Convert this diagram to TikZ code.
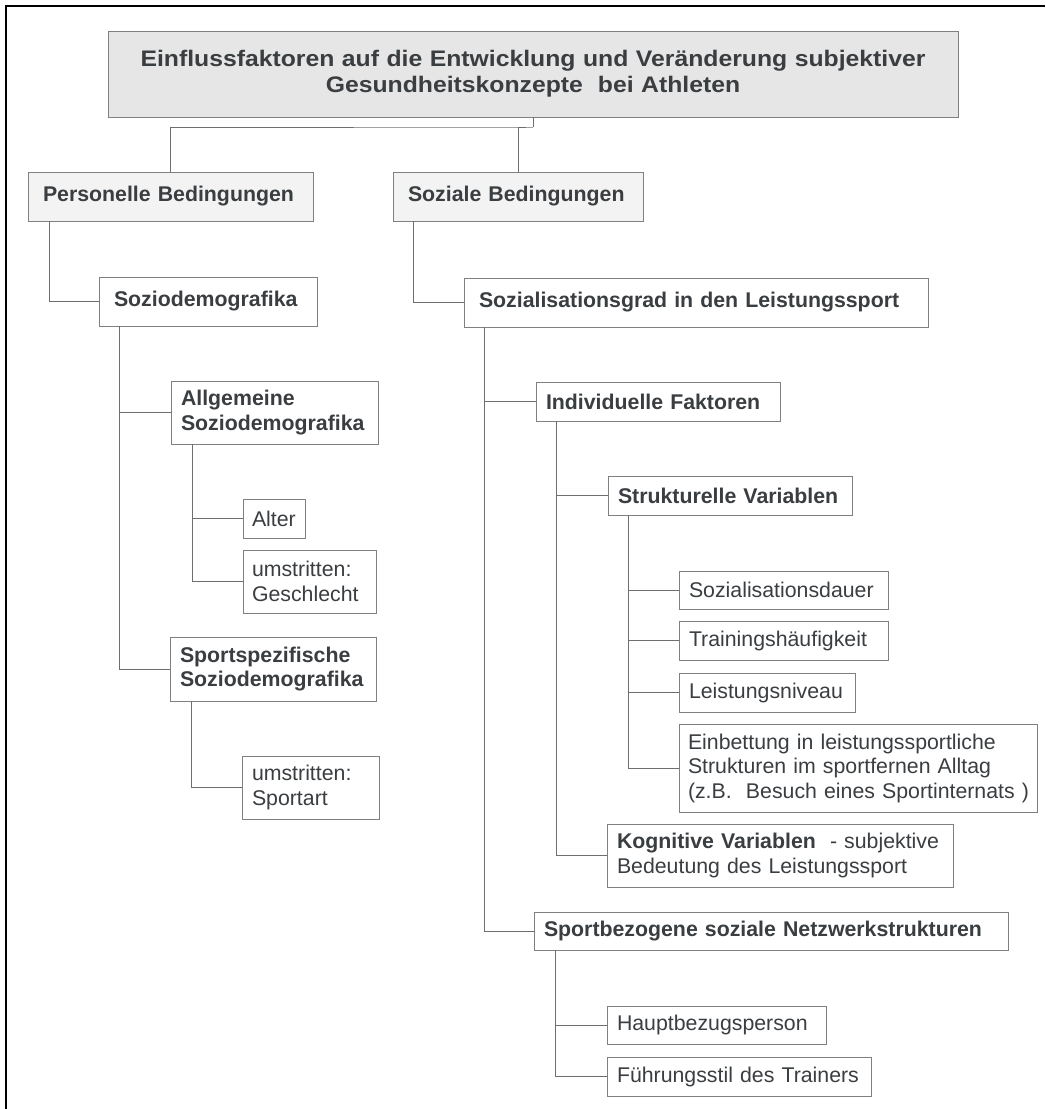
\documentclass[tikz,border=0pt]{standalone}
\usepackage{fontspec}
\setmainfont{Liberation Sans}
\newfontfamily\titlefont[FakeStretch=1.1]{Liberation Sans}
\usetikzlibrary{calc}

\definecolor{ink}{HTML}{3A3E41}
\definecolor{wirecol}{HTML}{6E6E6E}
\definecolor{rim}{HTML}{808080}
\definecolor{headfill}{HTML}{E6E6E6}
\definecolor{levelfill}{HTML}{F3F3F3}

\tikzset{
  box/.style={draw=rim, line width=1pt, fill=white, anchor=north west,
    align=left, inner xsep=10pt, inner ysep=0pt, outer sep=0pt, text=ink,
    font=\fontsize{21.3}{24.5}\selectfont},
  boldbox/.style={box, font=\fontsize{21.3}{24.5}\selectfont\bfseries},
  levelbox/.style={boldbox, fill=levelfill, inner xsep=15pt},
  wire/.style={draw=wirecol, line width=1pt},
}

\begin{document}
\begin{tikzpicture}[x=1pt, y=-1pt]
\useasboundingbox (0,0) rectangle (1045,1109);

% page frame (top and left edges)
\draw[line width=2.5pt, line join=miter] (6,1109) -- (6,6) -- (1045,6);

% heading
\node[box, fill=headfill, align=center, text width=830pt, minimum height=86pt,
      font=\titlefont\bfseries\fontsize{22.5}{26}\selectfont] (title) at (108,31)
  {Einflussfaktoren auf die Entwicklung und Veränderung subjektiver\\Gesundheitskonzepte\ \ bei Athleten};

% first level
\node[levelbox, text width=255pt, minimum height=49pt] (pers) at (28,172) {Personelle Bedingungen};
\node[levelbox, text width=220pt, minimum height=49pt] (soz) at (393,172) {Soziale Bedingungen};

% personal branch
\node[boldbox, inner xsep=15pt, text width=188pt, minimum height=49pt] (sozdem) at (99,277) {Soziodemografika};
\node[boldbox, text width=187pt, minimum height=63pt] (allg) at (171,381) {Allgemeine\\Soziodemografika};
\node[box, inner xsep=9pt, text width=44pt, minimum height=39pt] (alter) at (243,499) {Alter};
\node[box, inner xsep=9pt, text width=115pt, minimum height=63pt] (geschl) at (243,550) {umstritten:\\Geschlecht};
\node[boldbox, text width=186pt, minimum height=64pt] (sportsp) at (170,637) {Sportspezifische\\Soziodemografika};
\node[box, text width=117pt, minimum height=63pt] (sportart) at (242,756) {umstritten:\\Sportart};

% social branch
\node[boldbox, inner xsep=15pt, text width=434pt, minimum height=49pt] (sozgrad) at (464,278) {Sozialisationsgrad in den Leistungssport};
\node[boldbox, text width=224pt, minimum height=39pt] (indiv) at (536,382) {Individuelle Faktoren};
\node[boldbox, text width=224pt, minimum height=39pt] (strukt) at (608,476) {Strukturelle Variablen};
\node[box, text width=189pt, minimum height=38pt] (dauer) at (679,571) {Sozialisationsdauer};
\node[box, text width=189pt, minimum height=39pt] (train) at (679,621) {Trainingshäufigkeit};
\node[box, text width=156pt, minimum height=39pt] (niveau) at (679,673) {Leistungsniveau};
\node[box, inner xsep=9pt, text width=340pt, minimum height=88pt] (einbett) at (679,724)
  {\mbox{Einbettung in leistungssportliche}\\\mbox{Strukturen im sportfernen Alltag}\\\mbox{(z.B.\ \ Besuch eines Sportinternats )}};
\node[box, text width=326pt, minimum height=63pt] (kogn) at (607,824)
  {\mbox{\textbf{Kognitive Variablen}\ \ - subjektive}\\Bedeutung des Leistungssport};
\node[boldbox, text width=454pt, minimum height=38pt] (netz) at (534,912) {Sportbezogene soziale Netzwerkstrukturen};
\node[box, text width=199pt, minimum height=38pt] (haupt) at (607,1006) {Hauptbezugsperson};
\node[box, text width=244pt, minimum height=39pt] (fuehr) at (607,1057) {\mbox{Führungsstil des Trainers}};

% connectors
\coordinate (bus) at ($(title.south)+(0,10)$);
\draw[wire] (title.south) -- (bus);
\draw[wire] (pers.north) |- (bus) -| (soz.north);

\draw[wire] ([xshift=21pt]pers.south west) |- (sozdem.west);
\draw[wire] ([xshift=20pt]soz.south west) |- (sozgrad.west);

\draw[wire] ([xshift=20pt]sozdem.south west) |- (allg.west);
\draw[wire] ([xshift=20pt]sozdem.south west) |- (sportsp.west);
\draw[wire] ([xshift=21pt]allg.south west) |- (alter.west);
\draw[wire] ([xshift=21pt]allg.south west) |- (geschl.west);
\draw[wire] ([xshift=21pt]sportsp.south west) |- (sportart.west);

\draw[wire] ([xshift=20pt]sozgrad.south west) |- (indiv.west);
\draw[wire] ([xshift=20pt]sozgrad.south west) |- (netz.west);
\draw[wire] ([xshift=20pt]indiv.south west) |- (strukt.west);
\draw[wire] ([xshift=20pt]indiv.south west) |- (kogn.west);
\draw[wire] ([xshift=20pt]strukt.south west) |- (dauer.west);
\draw[wire] ([xshift=20pt]strukt.south west) |- (train.west);
\draw[wire] ([xshift=20pt]strukt.south west) |- (niveau.west);
\draw[wire] ([xshift=20pt]strukt.south west) |- (einbett.west);
\draw[wire] ([xshift=21pt]netz.south west) |- (haupt.west);
\draw[wire] ([xshift=21pt]netz.south west) |- (fuehr.west);
\end{tikzpicture}
\end{document}
